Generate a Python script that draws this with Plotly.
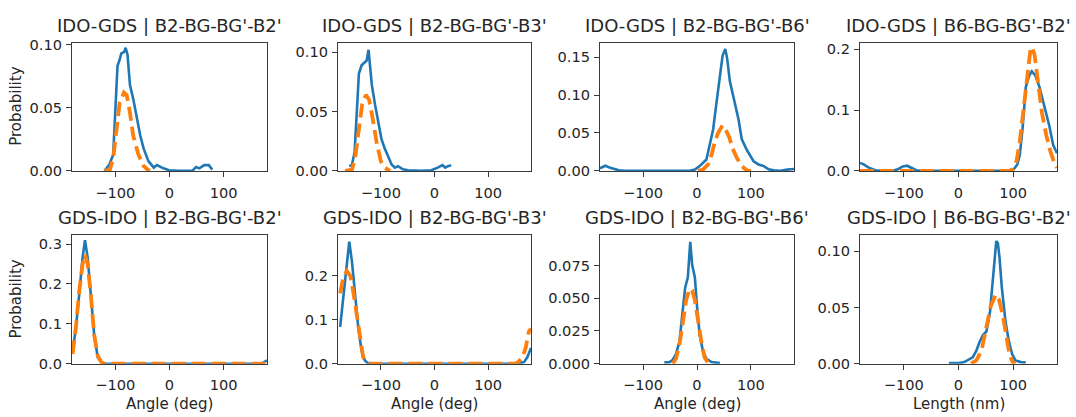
import plotly.graph_objects as go

# ---------------- data ----------------
titles = ["IDO-GDS | B2-BG-BG'-B2'", "IDO-GDS | B2-BG-BG'-B3'",
          "IDO-GDS | B2-BG-BG'-B6'", "IDO-GDS | B6-BG-BG'-B2'",
          "GDS-IDO | B2-BG-BG'-B2'", "GDS-IDO | B2-BG-BG'-B3'",
          "GDS-IDO | B2-BG-BG'-B6'", "GDS-IDO | B6-BG-BG'-B2'"]
x_labels = ["Angle (deg)", "Angle (deg)", "Angle (deg)", "Length (nm)"]
y_label = "Probability"
x_tick_vals = [-100, 0, 100]
x_tick_text = ["\u2212100", "0", "100"]

# panel 1
bx1 = [-120, -111, -104, -96, -92, -89, -84, -81, -77.5, -73, -67, -60.6, -54, -48, -39, -29, -23, -14, -1, 17.5, 42, 49, 55, 64, 72.5, 79]
by1 = [0, 0.005, 0.0128, 0.083, 0.088, 0.093, 0.094, 0.0975, 0.092, 0.068, 0.057, 0.042, 0.028, 0.018, 0.0077, 0.0026, 0.0046, 0.0026, 0.0005, 0, 0, 0.003, 0.002, 0.0046, 0.0046, 0.001]
ox1 = [-120, -110, -104, -98, -92, -84, -79, -73, -67, -57.5, -48, -39, -36]
oy1 = [0, 0.001, 0.01, 0.033, 0.054, 0.062, 0.06, 0.046, 0.028, 0.013, 0.004, 0.0005, 0]
# panel 2
bx2 = [-159, -154, -149, -143, -141, -136, -131, -126.5, -123, -120, -117, -111, -105, -99, -93, -86, -80, -74, -68, -59, -49, -25, -6, 6, 15, 20, 25, 31]
by2 = [0.004, 0.005, 0.016, 0.0645, 0.082, 0.089, 0.091, 0.093, 0.102, 0.09, 0.0726, 0.056, 0.040, 0.027, 0.019, 0.011, 0.0054, 0.0027, 0.004, 0.0013, 0.0005, 0, 0.0005, 0.0027, 0.0048, 0.0027, 0.004, 0.0048]
ox2 = [-167, -154, -148, -141, -135, -128, -122, -116, -108, -100, -93, -83]
oy2 = [0, 0.001, 0.011, 0.035, 0.056, 0.064, 0.060, 0.046, 0.024, 0.008, 0.0027, 0]
# panel 3
bx3 = [-180, -170, -161, -145, -132, -14, -4, 5, 17.5, 24, 30, 36, 42.5, 47.5, 52.5, 56, 61, 69, 77, 83, 92.5, 105, 114, 124, 133, 142.5, 155, 167.5, 180]
by3 = [0.0034, 0.0068, 0.004, 0.0008, 0, 0, 0.0017, 0.0063, 0.015, 0.034, 0.055, 0.089, 0.1225, 0.152, 0.1605, 0.148, 0.118, 0.093, 0.068, 0.042, 0.0275, 0.0127, 0.0085, 0.0063, 0.002, 0.0008, 0, 0.0017, 0.0025]
ox3 = [2, 11, 20.6, 27, 33, 39, 47.5, 54, 60, 66, 74, 83, 92.5, 100]
oy3 = [0, 0.0017, 0.0085, 0.021, 0.038, 0.05, 0.06, 0.053, 0.044, 0.0296, 0.017, 0.0063, 0.0008, 0]
# panel 4
bx4 = [-180, -174, -164, -152, -139, -121, -111, -102, -94, -86, -77, -64, 92, 101, 107.5, 112, 117, 123, 129, 134, 140.6, 148, 157.5, 166, 173, 180]
by4 = [0.013, 0.011, 0.0053, 0.001, 0, 0, 0.0027, 0.0074, 0.0085, 0.0053, 0.001, 0, 0, 0.0027, 0.0106, 0.0265, 0.069, 0.138, 0.1565, 0.164, 0.1565, 0.138, 0.106, 0.074, 0.0424, 0.029]
ox4 = [-180, 92, 99, 106, 112, 118, 124, 131, 134, 139, 145, 152.5, 160.6, 168, 176, 180]
oy4 = [0, 0, 0.0027, 0.016, 0.048, 0.0955, 0.154, 0.196, 0.204, 0.191, 0.1485, 0.0955, 0.058, 0.032, 0.0106, 0.0053]
# panel 5
bx5 = [-179, -173, -167, -160.6, -156, -151, -145, -139, -132.5, -126, -120, 170, 177, 180]
by5 = [0.028, 0.088, 0.169, 0.265, 0.31, 0.265, 0.169, 0.072, 0.016, 0.004, 0, 0, 0.006, 0.008]
ox5 = [-179, -173, -167, -160.6, -156, -151, -145, -139, -132.5, -126, -120, 180]
oy5 = [0.024, 0.088, 0.177, 0.249, 0.273, 0.249, 0.169, 0.072, 0.02, 0.004, 0, 0]
# panel 6
bx6 = [-176, -170, -163.6, -159, -154, -148, -142, -136, -130, -123, 154, 167, 173, 180]
by6 = [0.084, 0.153, 0.233, 0.278, 0.233, 0.153, 0.08, 0.029, 0.0073, 0, 0, 0.0036, 0.0145, 0.036]
ox6 = [-176, -170, -163.6, -157, -151, -145, -139, -133, -126.5, -120, 150, 156, 164, 170, 176, 180]
oy6 = [0.16, 0.196, 0.211, 0.2, 0.16, 0.109, 0.051, 0.0145, 0.0036, 0, 0, 0.0036, 0.0145, 0.036, 0.073, 0.08]
# panel 7
bx7 = [-60.6, -51, -45, -39, -32.5, -26, -22, -17, -12.5, -9, -4, 0, 5, 11, 17.5, 27, 36, 42.5]
by7 = [0.001, 0.0012, 0.003, 0.0073, 0.017, 0.044, 0.058, 0.066, 0.093, 0.0755, 0.066, 0.044, 0.022, 0.0097, 0.0037, 0.0012, 0.001, 0.0005]
ox7 = [-45, -39, -32.5, -26, -20, -14, -9, -4, 2, 8, 14, 20.6, 24]
oy7 = [0, 0.0037, 0.0146, 0.0317, 0.0487, 0.057, 0.056, 0.0487, 0.0317, 0.017, 0.0049, 0.0005, 0]
# panel 8
bx8 = [-17.5, -8, 1, 10.6, 17, 26, 32.5, 39, 45, 51, 57.5, 62, 66, 69, 72, 75, 79, 86, 92, 98, 104, 114, 123]
by8 = [0.0006, 0.0006, 0.0006, 0.0014, 0.0029, 0.0057, 0.0114, 0.02, 0.0257, 0.0286, 0.0457, 0.0686, 0.0886, 0.109, 0.107, 0.094, 0.0686, 0.037, 0.02, 0.0086, 0.0029, 0.0014, 0.0011]
ox8 = [23, 32.5, 42, 51, 59, 68, 74, 81, 87, 93, 99, 104]
oy8 = [0, 0.003, 0.0114, 0.0314, 0.0514, 0.0614, 0.057, 0.043, 0.0257, 0.0086, 0.0014, 0]

blue_x = [bx1, bx2, bx3, bx4, bx5, bx6, bx7, bx8]
blue_y = [by1, by2, by3, by4, by5, by6, by7, by8]
orange_x = [ox1, ox2, ox3, ox4, ox5, ox6, ox7, ox8]
orange_y = [oy1, oy2, oy3, oy4, oy5, oy6, oy7, oy8]

y_tops = [0.1015, 0.108, 0.169, 0.211, 0.3217, 0.292, 0.0979, 0.114]
y_ticks = [[0, 0.05, 0.10], [0, 0.05, 0.10], [0, 0.05, 0.10, 0.15], [0, 0.1, 0.2],
           [0, 0.1, 0.2, 0.3], [0, 0.1, 0.2], [0, 0.025, 0.05, 0.075], [0, 0.05, 0.10]]
y_formats = [".2f", ".2f", ".2f", ".1f", ".1f", ".1f", ".3f", ".2f"]

# ---------------- layout ----------------
W, H = 1076, 417
col_px = [(72, 267), (338, 531), (600, 794), (860, 1057)]
row_px = [(37, 170), (237, 370)]
TXT = "#262626"
FONT = "DejaVu Sans"
BLUE = "#1f77b4"
ORANGE = "#ff7f0e"

fig = go.Figure()
annotations = []
for i in range(8):
    r, c = divmod(i, 4)
    n = i + 1
    xa = "x" if n == 1 else f"x{n}"
    ya = "y" if n == 1 else f"y{n}"
    fig.add_trace(go.Scatter(x=blue_x[i], y=blue_y[i], mode="lines",
                             line=dict(color=BLUE, width=2.6),
                             xaxis=xa, yaxis=ya, showlegend=False))
    fig.add_trace(go.Scatter(x=orange_x[i], y=orange_y[i], mode="lines",
                             line=dict(color=ORANGE, width=3.8, dash="14px,6px"),
                             xaxis=xa, yaxis=ya, showlegend=False))
    x0, x1 = col_px[c]
    y0, y1 = row_px[r]
    xd = [x0 / W, x1 / W]
    yd = [1 - y1 / H, 1 - y0 / H]
    common = dict(showline=True, mirror=True, linecolor="#3a3a3a", linewidth=1.25,
                  ticks="outside", ticklen=5, tickwidth=1.1, tickcolor="#3a3a3a",
                  showgrid=False, zeroline=False,
                  tickfont=dict(family=FONT, size=14.6, color=TXT))
    fig.layout[f"xaxis{'' if n == 1 else n}"] = dict(
        domain=xd, anchor=ya, range=[-180, 180], tickmode="array",
        tickvals=x_tick_vals, ticktext=x_tick_text, ticklabelstandoff=3, **common)
    fig.layout[f"yaxis{'' if n == 1 else n}"] = dict(
        domain=yd, anchor=xa, range=[0, y_tops[i]], tickmode="array",
        tickvals=y_ticks[i], tickformat=y_formats[i], ticklabelstandoff=1, **common)
    annotations.append(dict(text=titles[i], x=(xd[0] + xd[1]) / 2, y=yd[1],
                            xref="paper", yref="paper", xanchor="center", yanchor="bottom",
                            yshift=5, showarrow=False,
                            font=dict(family=FONT, size=18, color=TXT)))
    if r == 1:
        annotations.append(dict(text=x_labels[c], x=(xd[0] + xd[1]) / 2, y=yd[0],
                                xref="paper", yref="paper", xanchor="center", yanchor="top",
                                yshift=-29, showarrow=False,
                                font=dict(family=FONT, size=15, color=TXT)))
    if c == 0:
        annotations.append(dict(text=y_label, x=16 / W, y=(yd[0] + yd[1]) / 2,
                                xref="paper", yref="paper", xanchor="center", yanchor="middle",
                                textangle=-90, showarrow=False,
                                font=dict(family=FONT, size=15, color=TXT)))

fig.update_layout(width=W, height=H, margin=dict(l=0, r=0, t=0, b=0),
                  paper_bgcolor="white", plot_bgcolor="white",
                  annotations=annotations, showlegend=False)
fig.write_html("out.html")
